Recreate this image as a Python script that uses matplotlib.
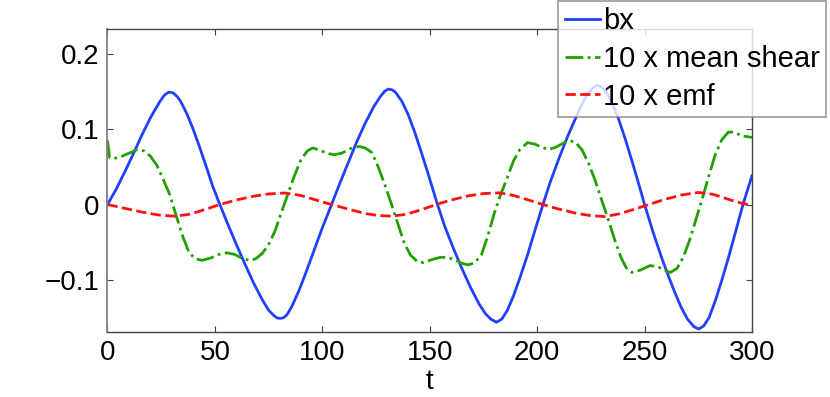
import matplotlib
matplotlib.use("Agg")
import matplotlib.pyplot as plt

plt.rcParams['font.family'] = ['Liberation Sans', 'DejaVu Sans']

# bx
t_bx = [0, 4, 8, 12, 16, 20, 22, 24.5, 26.5, 28.5, 30.5, 32.5, 34, 37, 40, 43, 46, 49, 52.3,
        56, 60, 64, 68, 72, 75, 77, 78.7, 80.3, 82, 83.6, 86, 89, 92, 96, 100, 104.3,
        108, 112, 116, 120, 124, 127, 129, 130.7, 132.5, 134, 137, 140, 143, 146, 149, 153.6,
        157, 161, 165, 169, 173, 176, 178.5, 181, 183.5, 186, 189, 192, 195.5, 199, 202.7,
        206, 210, 214, 218, 221, 224, 226, 228, 230, 232, 234.5, 237.6, 241, 244, 247, 250,
        254, 258, 261, 264, 267, 270, 273, 275.2, 277.5, 280, 283, 286, 289, 292, 295.8, 300]
bx = [0, 0.020, 0.043, 0.067, 0.092, 0.115, 0.125, 0.137, 0.145, 0.149, 0.148, 0.143, 0.137, 0.120, 0.099, 0.075, 0.050, 0.024, 0,
      -0.026, -0.053, -0.079, -0.104, -0.126, -0.140, -0.146, -0.150, -0.151, -0.150, -0.146, -0.134, -0.115, -0.093, -0.062, -0.031, 0,
      0.027, 0.055, 0.083, 0.108, 0.130, 0.143, 0.150, 0.153, 0.152, 0.149, 0.137, 0.119, 0.096, 0.070, 0.043, 0,
      -0.029, -0.058, -0.085, -0.110, -0.132, -0.145, -0.152, -0.156, -0.152, -0.141, -0.121, -0.097, -0.067, -0.034, 0,
      0.029, 0.060, 0.089, 0.115, 0.134, 0.149, 0.155, 0.158, 0.156, 0.150, 0.137, 0.116, 0.087, 0.059, 0.030, 0,
      -0.037, -0.071, -0.094, -0.116, -0.136, -0.152, -0.162, -0.165, -0.161, -0.150, -0.127, -0.100, -0.071, -0.040, 0, 0.038]

# 10 x mean shear
t_sh = [0, 1, 3, 6, 10, 14, 17, 20, 23, 26, 29, 32, 35, 38, 41, 44, 48, 52, 55.5, 59, 62.5, 66,
        69, 72, 75, 78, 81, 84, 87, 90, 93, 95.5, 99, 102, 105.5, 109, 113, 117, 120, 123, 126,
        129, 132, 135, 138, 141, 144, 147, 151, 155, 158, 161.5, 165, 168, 171, 174, 177, 180,
        183, 186, 189, 192, 195.5, 199, 202, 205, 208, 212, 215, 218, 221, 224, 227, 230, 233,
        236, 239, 241.5, 244, 248, 252.5, 256, 259, 262, 265, 268, 271, 274, 277, 280, 283,
        286, 289, 292, 295, 300]
shear = [0.085, 0.062, 0.061, 0.063, 0.068, 0.073, 0.071, 0.064, 0.052, 0.033, 0.013, -0.015, -0.042, -0.064, -0.072, -0.074, -0.071, -0.066, -0.064, -0.066, -0.071, -0.074,
         -0.072, -0.065, -0.053, -0.035, -0.010, 0.014, 0.038, 0.059, 0.071, 0.075, 0.072, 0.068, 0.066, 0.068, 0.074, 0.077, 0.075, 0.069, 0.050,
         0.027, 0.002, -0.024, -0.050, -0.067, -0.075, -0.077, -0.073, -0.070, -0.070, -0.073, -0.078, -0.080, -0.077, -0.067, -0.042, -0.012,
         0.013, 0.035, 0.058, 0.073, 0.082, 0.080, 0.076, 0.073, 0.075, 0.081, 0.085, 0.082, 0.072, 0.054, 0.032, 0.006, -0.019,
         -0.046, -0.070, -0.084, -0.090, -0.087, -0.081, -0.082, -0.087, -0.090, -0.085, -0.070, -0.047, -0.019, 0.009, 0.039, 0.067,
         0.086, 0.096, 0.096, 0.091, 0.089]

# 10 x emf
t_emf = [0, 8, 16, 24, 31.4, 38, 45, 52.3, 60, 68, 75, 82.6, 90, 97, 104.3, 112, 120, 126, 132.3,
         139, 146, 153, 160, 168, 175, 182.5, 189, 196, 202.7, 210, 218, 225, 231.5, 238, 245,
         252, 259, 267, 275, 282, 290, 296, 300]
emf = [0, -0.005, -0.010, -0.014, -0.0155, -0.013, -0.007, 0, 0.006, 0.011, 0.014, 0.0153, 0.012, 0.006, 0, -0.006, -0.012, -0.0145, -0.0155,
       -0.013, -0.007, 0, 0.006, 0.0115, 0.0145, 0.0155, 0.012, 0.006, 0, -0.006, -0.0115, -0.0148, -0.016, -0.0125, -0.0065,
       0, 0.0065, 0.0125, 0.016, 0.0135, 0.006, 0.001, -0.001]

yticks = [-0.1, 0, 0.1, 0.2]
ytick_labels = ['\u22120.1', '0', '0.1', '0.2']
xticks = [0, 50, 100, 150, 200, 250, 300]

fig = plt.figure(figsize=(8.3, 3.97), dpi=100)
ax = fig.add_axes([0.1295, 0.1637, 0.7765, 0.762])

ax.plot(t_bx, bx, color='#2040ff', lw=2.0, label='bx')
ax.plot(t_sh, shear, color='#22a000', lw=2.0, ls='-.', label='10 x mean shear')
ax.plot(t_emf, emf, color='#ff1010', lw=2.0, ls='--', label='10 x emf')

ax.set_xlim(0, 300)
ax.set_ylim(-0.169, 0.232)
ax.set_xticks(xticks)
ax.set_xticklabels([str(v) for v in xticks])
ax.set_yticks(yticks)
ax.set_yticklabels(ytick_labels)
ax.tick_params(direction='in', length=4, width=0.8, labelsize=20, color='#444444',
               top=True, right=True, pad=6)
for s in ax.spines.values():
    s.set_color('#444444')
    s.set_linewidth(1.0)
ax.spines['left'].set_color('#808080')
ax.spines['left'].set_linewidth(1.3)
ax.set_xlabel('t', fontsize=20, labelpad=2)

leg = ax.legend(loc='lower right', bbox_to_anchor=(826 / 830, 1 - 117 / 397),
                bbox_transform=fig.transFigure, fontsize=21, frameon=True, fancybox=False,
                handlelength=1.2, handletextpad=0.1, labelspacing=0.33, borderpad=0.22,
                borderaxespad=0)
leg.get_frame().set_edgecolor('#808080')
leg.get_frame().set_linewidth(1.2)
leg.set_clip_on(False)

fig.savefig('out.png', dpi=100)
